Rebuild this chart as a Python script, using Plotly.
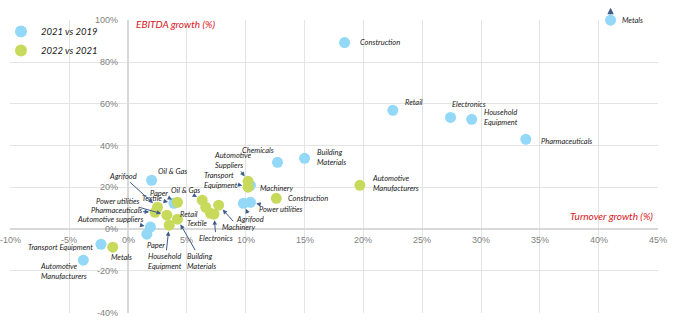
import plotly.graph_objects as go

# ---------------- data ----------------
sectors_2119 = ["Metals", "Construction", "Retail", "Electronics", "Household<br>Equipment",
                "Pharmaceuticals", "Building<br>Materials", "Chemicals", "Oil & Gas", "Machinery",
                "Power utilities", "Agrifood", "Textile", "Automotive suppliers", "Paper",
                "Transport Equipment", "Automotive<br>Manufacturers"]
turnover_2119 = [41.0, 18.4, 22.5, 27.4, 29.2, 33.8, 15.0, 12.7, 2.0, 10.4,
                 10.4, 9.8, 3.9, 1.9, 1.6, -2.3, -3.8]
ebitda_2119 = [100.0, 89.3, 56.9, 53.5, 52.6, 43.0, 33.9, 32.0, 23.4, 21.0,
               12.9, 12.4, 12.4, 1.0, -2.4, -7.2, -14.8]

sectors_2221 = ["Metals", "Automotive<br>Manufacturers", "Construction", "Transport<br>Equipment",
                "Automotive<br>Suppliers", "Oil & Gas", "Retail", "Textile", "Electronics",
                "Machinery", "Paper", "Agrifood", "Pharmaceuticals", "Power utilities",
                "Household<br>Equipment", "Building<br>Materials"]
turnover_2221 = [-1.3, 19.7, 12.6, 10.2, 10.2, 6.3, 6.6, 7.0, 7.3, 7.7,
                 4.2, 2.5, 2.3, 3.3, 3.5, 4.2]
ebitda_2221 = [-8.6, 21.0, 14.8, 20.1, 22.9, 13.9, 10.5, 7.6, 7.2, 11.5,
               12.9, 10.5, 8.1, 6.7, 1.9, 4.8]

x_tickvals = [-10, -5, 0, 5, 10, 15, 20, 25, 30, 35, 40, 45]
x_ticktext = ["-10%", "-5%", "0%", "5%", "10%", "15%", "20%", "25%", "30%", "35%", "40%", "45%"]
y_tickvals = [-40, -20, 0, 20, 40, 60, 80, 100]
y_ticktext = ["-40%", "-20%", "0%", "20%", "40%", "60%", "80%", "100%"]

# label layout (pixel offsets from the point, screen y down): (mode, dx, dy, anchor)
# mode 'a' = arrow label, 't' = text only
labels_2119 = [("t", 9, 0, "left"), ("t", 13, 0, "left"), ("t", 10, -8, "left"), ("t", -1, -13, "left"),
               ("t", 10, -2, "left"), ("t", 13, 2, "left"), ("t", 10, -1, "left"), ("t", -20, -12, "center"),
               ("t", 21, -9, "center"), ("t", 8, 3, "left"), ("a", 31, 7, "center"), ("a", 7, 16, "center"),
               ("a", -22, -5, "center"), ("a", -40, -8, "center"), ("t", 9, 11, "center"),
               ("t", -6, 3, "right"), ("t", -20, 11, "center")]
labels_2221 = [("t", 9, 10, "center"), ("t", 10, -2, "left"), ("t", 10, 0, "left"), ("a", -27, -7, "center"),
               ("a", -15, -21, "center"), ("a", -17, -10, "center"), ("a", -17, 7, "center"),
               ("a", -13, 10, "center"), ("a", 2, 24, "center"), ("a", 20, 22, "center"),
               ("a", -18, -9, "center"), ("a", -34, -31, "center"), ("a", -39, -2, "center"),
               ("a", -49, -14, "center"), ("a", -4, 36, "center"), ("a", 24, 42, "center")]

BLUE = "#93D8F7"
GREEN = "#C8DA5C"
ARROW = "#3E5C8A"
LABEL_FONT = dict(family="Lato, Open Sans, sans-serif", size=7.5, color="#1a1a1a")
TICK_FONT = dict(family="Liberation Sans, Arial, sans-serif", size=9, color="#7F7F7F")

fig = go.Figure()
fig.add_trace(go.Scatter(x=turnover_2119, y=ebitda_2119, mode="markers", name="<i>2021 vs 2019</i>",
                         marker=dict(size=11, color=BLUE), cliponaxis=False, hoverinfo="skip"))
fig.add_trace(go.Scatter(x=turnover_2221, y=ebitda_2221, mode="markers", name="<i>2022 vs 2021</i>",
                         marker=dict(size=11, color=GREEN), cliponaxis=False, hoverinfo="skip"))

annotations = []


def add_labels(names, xs, ys, specs):
    for n, x, y, (mode, dx, dy, anc) in zip(names, xs, ys, specs):
        txt = "<i>" + n + "</i>"
        if mode == "t":
            annotations.append(dict(x=x, y=y, xref="x", yref="y", text=txt, showarrow=False,
                                    xanchor=anc, yanchor="middle", xshift=dx, yshift=-dy,
                                    font=LABEL_FONT, align="left"))
        else:
            annotations.append(dict(x=x, y=y, xref="x", yref="y", text=txt, showarrow=True,
                                    ax=dx, ay=dy, arrowhead=2, arrowsize=0.9, arrowwidth=1,
                                    arrowcolor=ARROW, standoff=6, font=LABEL_FONT, align="left"))


add_labels(sectors_2119, turnover_2119, ebitda_2119, labels_2119)
add_labels(sectors_2221, turnover_2221, ebitda_2221, labels_2221)

# off-scale arrow for Metals (2021 vs 2019): head drawn above the point
annotations.append(dict(x=turnover_2119[0], y=ebitda_2119[0], xref="x", yref="y", text="",
                        showarrow=True, ax=0, ay=-14, arrowside="start",
                        arrowhead=2, startarrowhead=2, startarrowsize=1, arrowwidth=1.3,
                        arrowcolor=ARROW, standoff=6))

# tick labels drawn at the crossing axes
for v, t in zip(x_tickvals, x_ticktext):
    annotations.append(dict(x=v, y=0, xref="x", yref="y", text=t, showarrow=False,
                            xanchor="center", yanchor="middle", yshift=-11, font=TICK_FONT))
for v, t in zip(y_tickvals, y_ticktext):
    annotations.append(dict(x=0, y=v, xref="x", yref="y", text=t, showarrow=False,
                            xanchor="right", yanchor="middle", xshift=-8, font=TICK_FONT))

# axis titles placed inside the plot
annotations.append(dict(x=0.5, y=98, xref="x", yref="y", text="<i>EBITDA growth (%)</i>",
                        showarrow=False, xanchor="left", yanchor="middle",
                        font=dict(family="Lato, Open Sans, sans-serif", size=10, color="#D7141A")))
annotations.append(dict(x=44.8, y=6.2, xref="x", yref="y", text="<i>Turnover growth (%)</i>",
                        showarrow=False, xanchor="right", yanchor="middle",
                        font=dict(family="Lato, Open Sans, sans-serif", size=10, color="#D7141A")))

fig.update_layout(
    width=675, height=321,
    margin=dict(l=10, r=17, t=20, b=8, autoexpand=False),
    paper_bgcolor="white", plot_bgcolor="white",
    showlegend=True,
    legend=dict(x=0, y=1.01, xanchor="left", yanchor="top", bgcolor="rgba(0,0,0,0)",
                indentation=-9,
                font=dict(family="Lato, Open Sans, sans-serif", size=9.5, color="#1a1a1a"),
                itemsizing="constant", tracegroupgap=0),
    annotations=annotations,
    xaxis=dict(range=[-10.03, 45.03], tickvals=x_tickvals, showticklabels=False,
               showgrid=True, gridcolor="#E4E4E4", gridwidth=1,
               zeroline=True, zerolinecolor="#D8D8D8", zerolinewidth=1.5, showline=False),
    yaxis=dict(range=[-40.1, 100.1], tickvals=y_tickvals, showticklabels=False,
               showgrid=True, gridcolor="#E4E4E4", gridwidth=1,
               zeroline=True, zerolinecolor="#D8D8D8", zerolinewidth=1.5, showline=False),
)

fig.write_html("out.html")
